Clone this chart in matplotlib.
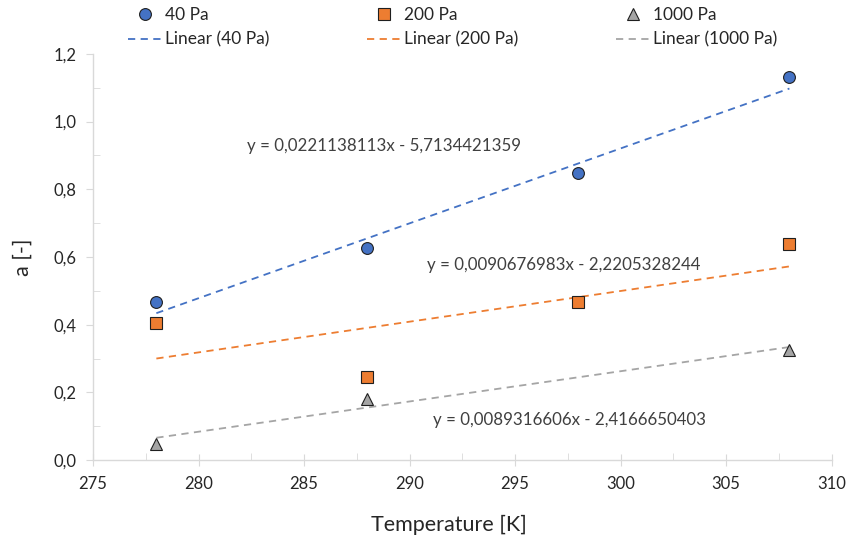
import numpy as np
import matplotlib
matplotlib.use("Agg")
import matplotlib.pyplot as plt
from matplotlib.ticker import MultipleLocator, FuncFormatter

plt.rcParams['font.family'] = ['Lato', 'DejaVu Sans']

temps = [278, 288, 298, 308]
a_40 = [0.466, 0.627, 0.849, 1.131]
a_200 = [0.405, 0.246, 0.467, 0.638]
temps_1000 = [278, 288, 308]
a_1000 = [0.047, 0.181, 0.326]

# trend line coefficients as printed on the chart
slopes = [0.0221138113, 0.0090676983, 0.0089316606]
intercepts = [-5.7134421359, -2.2205328244, -2.4166650403]
eq_labels = ["y = 0,0221138113x - 5,7134421359",
             "y = 0,0090676983x - 2,2205328244",
             "y = 0,0089316606x - 2,4166650403"]
eq_pos = [(288.8, 0.928), (297.3, 0.576), (297.6, 0.118)]

names = ["40 Pa", "200 Pa", "1000 Pa"]
colors = ["#4472C4", "#ED7D31", "#A5A5A5"]
markers = ["o", "s", "^"]
msizes = [8.5, 8, 9]

fig = plt.figure(figsize=(8.46, 5.44), dpi=100)
ax = fig.add_axes([0.110, 0.154, 0.873, 0.747])

xs_all = [temps, temps, temps_1000]
ys_all = [a_40, a_200, a_1000]
handles = []
for i in range(3):
    h1, = ax.plot(xs_all[i], ys_all[i], linestyle="none", marker=markers[i],
                  markersize=msizes[i], markerfacecolor=colors[i],
                  markeredgecolor="#1f1f1f", markeredgewidth=0.8,
                  label=names[i], zorder=3)
    xl = np.array([min(xs_all[i]), max(xs_all[i])])
    h2, = ax.plot(xl, slopes[i] * xl + intercepts[i], color=colors[i],
                  linestyle=(0, (4, 3)), linewidth=1.3,
                  label="Linear (%s)" % names[i], zorder=2)
    handles += [h1, h2]
    ax.text(eq_pos[i][0], eq_pos[i][1], eq_labels[i], ha="center", va="center",
            fontsize=12.2, color="#404040")

ax.set_xlim(275, 310)
ax.set_ylim(0, 1.2)
ax.xaxis.set_major_locator(MultipleLocator(5))
ax.xaxis.set_minor_locator(MultipleLocator(2.5))
ax.yaxis.set_major_locator(MultipleLocator(0.2))
ax.yaxis.set_minor_locator(MultipleLocator(0.1))
ax.yaxis.set_major_formatter(FuncFormatter(lambda v, p: ("%.1f" % v).replace(".", ",")))

for s in ["top", "right"]:
    ax.spines[s].set_visible(False)
for s in ["left", "bottom"]:
    ax.spines[s].set_color("#D9D9D9")
    ax.spines[s].set_linewidth(1.0)

ax.tick_params(axis="x", which="major", direction="inout", length=9, color="#D9D9D9",
               labelsize=12, labelcolor="#262626", pad=7)
ax.tick_params(axis="x", which="minor", direction="in", length=5, color="#D9D9D9")
ax.tick_params(axis="y", which="major", direction="out", length=5, color="#D9D9D9",
               labelsize=12, labelcolor="#262626", pad=7)
ax.tick_params(axis="y", which="minor", direction="in", length=5, color="#D9D9D9")

ax.set_xlabel("Temperature [K]", fontsize=15.5, color="#262626")
ax.xaxis.set_label_coords(0.482, -0.135)
ax.set_ylabel("a [-]", fontsize=15.5, color="#262626", labelpad=15)

fig.legend(handles=handles, ncol=3, loc="upper left", bbox_to_anchor=(0.143, 1.0),
           frameon=False, fontsize=12.5, labelcolor="#262626", columnspacing=5.6,
           handlelength=1.95, handletextpad=0.2, borderaxespad=0.2, labelspacing=0.5,
           borderpad=0.2)

fig.savefig("out.png", dpi=100)
